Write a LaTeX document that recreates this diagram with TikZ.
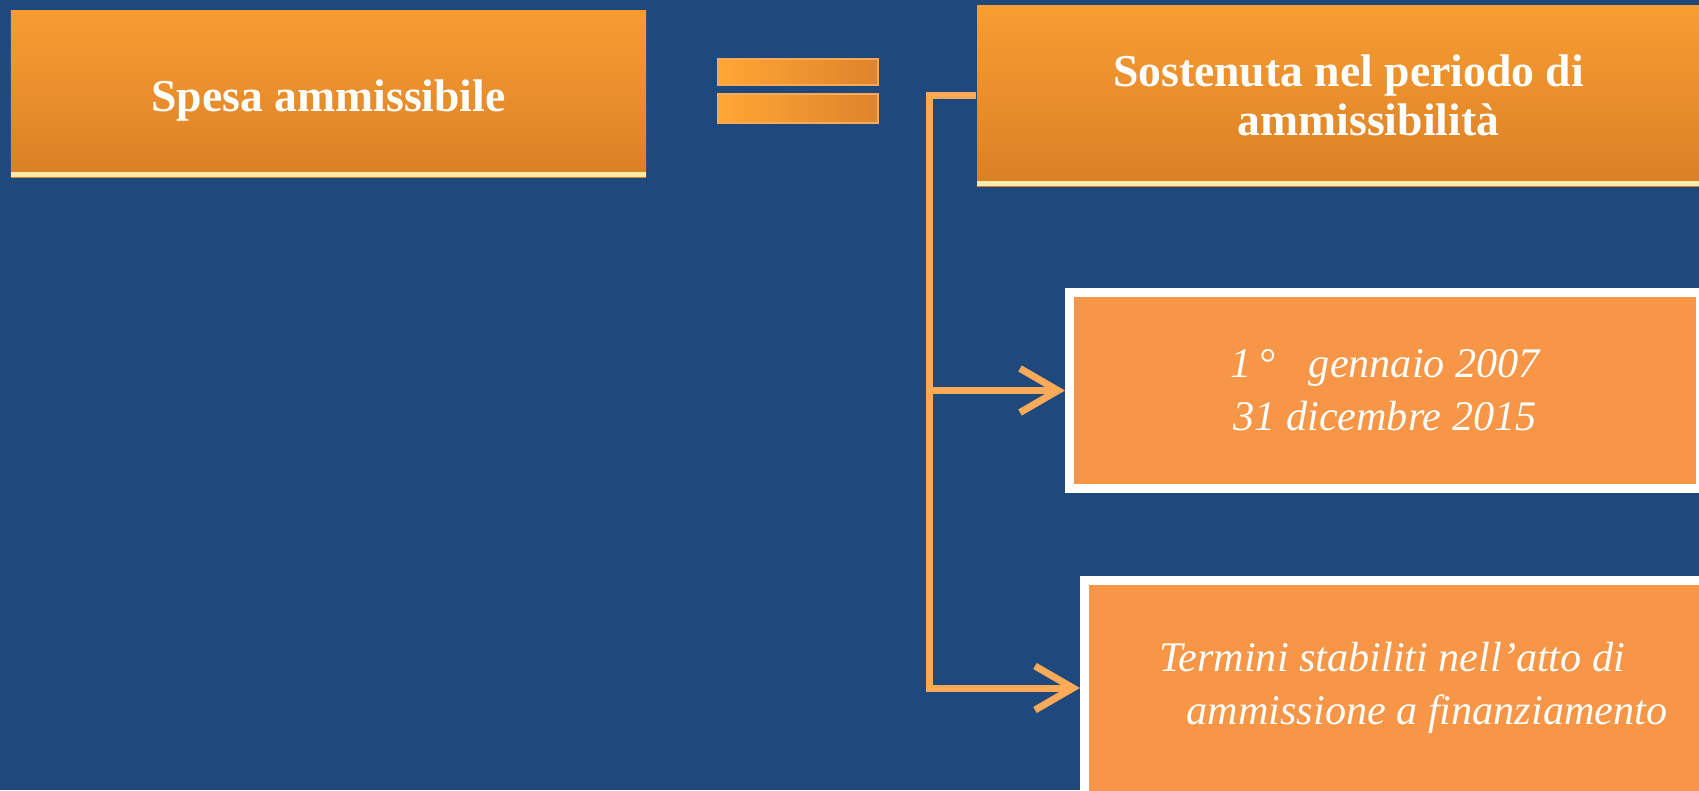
\documentclass[tikz,border=0pt]{standalone}
\usepackage{fontspec}
\setmainfont{Liberation Serif}
\usetikzlibrary{arrows.meta,positioning}
\definecolor{fondo}{RGB}{31,73,125}
\definecolor{arancioA}{RGB}{248,157,50}
\definecolor{arancioB}{RGB}{218,128,37}
\definecolor{arancio}{RGB}{247,150,70}
\definecolor{barraA}{RGB}{255,166,52}
\definecolor{barraB}{RGB}{222,132,44}
\definecolor{linea}{RGB}{252,170,88}
\definecolor{riflesso}{RGB}{255,236,170}
\begin{document}
\begin{tikzpicture}[line join=miter,
	titolo/.style={top color=arancioA,bottom color=arancioB,inner sep=0pt,text=white,align=center,font=\fontsize{13}{14}\selectfont\bfseries,
		path picture={\draw[riflesso,line width=0.05cm] ([yshift=0.025cm]path picture bounding box.south west)--([yshift=0.025cm]path picture bounding box.south east);}},
	dato/.style={fill=arancio,draw=white,line width=0.09cm,inner sep=0pt,text=white,align=center,font=\fontsize{12}{15}\selectfont\itshape},
	barra/.style={left color=barraA,right color=barraB,draw=linea,line width=0.02cm,minimum width=1.6cm,inner sep=0pt},
	link/.style={linea,line width=0.07cm},
	freccia/.style={link,-{Straight Barb[length=0.38cm,width=0.44cm]}}]
	\useasboundingbox (0,0) rectangle (16.99,7.90);
	\clip (0,0) rectangle (16.99,7.90);
	\fill[fondo] (0,0) rectangle (16.99,7.90); %sfondo
	\node[titolo,minimum width=6.35cm,minimum height=1.66cm] (spesa) at (3.285,6.96) {\raisebox{-0.07cm}[\height][\depth]{Spesa ammissibile}};
	\node[titolo,minimum width=7.43cm,minimum height=1.81cm] (periodo) at (13.485,6.945) {Sostenuta nel periodo di\\\hspace{0.4cm}ammissibilità};
	\node[dato,minimum width=6.31cm,minimum height=1.96cm] (date) at (13.85,3.995) {1\,°\hspace{0.8em}gennaio 2007\\31 dicembre 2015};
	\node[dato,minimum width=6.55cm,minimum height=2.15cm] (termini) at (14.12,1.02) {Termini stabiliti nell'atto di\hspace*{0.4cm}\\\hspace*{0.3cm}ammissione a finanziamento};
	\foreach \Nome/\Y/\Alt in {uguale1/7.185/0.26,uguale2/6.8175/0.285}
	\node[barra,minimum height=\Alt cm] (\Nome) at (7.98,\Y) {} ; %segno =
	\coordinate (dorso) at (9.29,0);
	\draw[freccia] (periodo.west)--(periodo.west -| dorso)--(termini.west -| dorso)--(termini.west) ;
	\draw[freccia] (date.west -| dorso)--(date.west) ;
\end{tikzpicture}
\end{document}
